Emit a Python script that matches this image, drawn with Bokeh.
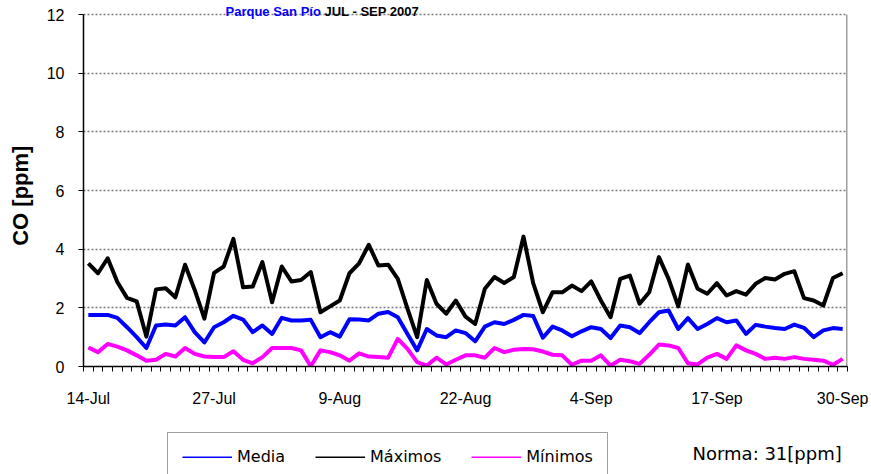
from bokeh.plotting import figure
from bokeh.layouts import column
from bokeh.models import FixedTicker, Legend, LegendItem, Label, Range1d
from bokeh.embed import file_html
from bokeh.resources import INLINE

# ---- data ----
tick_idx = [0, 13, 26, 39, 52, 65, 78]
tick_labels = ["14-Jul", "27-Jul", "9-Aug", "22-Aug", "4-Sep", "17-Sep", "30-Sep"]

media = [1.76, 1.76, 1.76, 1.66, 1.34, 1.00, 0.63, 1.40, 1.43, 1.40, 1.68, 1.17, 0.82, 1.34,
         1.51, 1.73, 1.60, 1.17, 1.40, 1.11, 1.66, 1.57, 1.57, 1.59, 1.00, 1.17, 1.02,
         1.61, 1.60, 1.57, 1.80, 1.86, 1.68, 1.11, 0.55, 1.28, 1.06, 1.00, 1.23, 1.14, 0.86,
         1.36, 1.51, 1.45, 1.59, 1.76, 1.72, 0.98, 1.36, 1.23, 1.03, 1.20, 1.34,
         1.28, 0.97, 1.40, 1.34, 1.14, 1.51, 1.85, 1.91, 1.28, 1.65, 1.28, 1.45, 1.65, 1.51,
         1.57, 1.11, 1.42, 1.36, 1.31, 1.28, 1.43, 1.32, 1.00, 1.23, 1.31, 1.28]

maximos = [3.52, 3.18, 3.69, 2.88, 2.34, 2.22, 1.02, 2.63, 2.67, 2.36, 3.47, 2.61, 1.63, 3.19,
           3.41, 4.35, 2.70, 2.73, 3.56, 2.19, 3.41, 2.90, 2.95, 3.22, 1.85, 2.05, 2.25,
           3.18, 3.52, 4.15, 3.44, 3.47, 2.99, 1.97, 1.00, 2.95, 2.14, 1.80, 2.25, 1.70, 1.45,
           2.65, 3.05, 2.85, 3.05, 4.43, 2.84, 1.85, 2.53, 2.53, 2.76, 2.57, 2.90,
           2.25, 1.68, 2.99, 3.10, 2.14, 2.53, 3.73, 2.99, 2.05, 3.48, 2.65, 2.48, 2.84, 2.42,
           2.57, 2.45, 2.82, 3.02, 2.97, 3.16, 3.25, 2.33, 2.25, 2.08, 3.02, 3.18]

minimos = [0.65, 0.49, 0.77, 0.68, 0.55, 0.38, 0.20, 0.23, 0.43, 0.34, 0.63, 0.43, 0.34, 0.32,
           0.32, 0.52, 0.23, 0.11, 0.32, 0.63, 0.63, 0.63, 0.55, 0.01, 0.55, 0.49, 0.38,
           0.20, 0.45, 0.34, 0.32, 0.30, 0.94, 0.60, 0.15, 0.03, 0.30, 0.07, 0.23, 0.38, 0.38,
           0.30, 0.63, 0.49, 0.57, 0.60, 0.59, 0.51, 0.40, 0.38, 0.06, 0.20, 0.20,
           0.38, 0.03, 0.23, 0.18, 0.09, 0.40, 0.75, 0.72, 0.63, 0.11, 0.07, 0.30, 0.43, 0.26,
           0.72, 0.55, 0.43, 0.26, 0.30, 0.26, 0.32, 0.26, 0.23, 0.20, 0.06, 0.26]

y_ticks = [0, 2, 4, 6, 8, 10, 12]
y_max = 12
days = list(range(len(media)))

# ---- main figure ----
W, H1, H2 = 871, 420, 54
p = figure(width=W, height=H1, output_backend="svg", toolbar_location=None,
           x_range=Range1d(-0.5, len(days) - 0.5), y_range=Range1d(0, 12.48),
           min_border_left=83, min_border_right=24,
           min_border_top=0, min_border_bottom=54)
p.outline_line_color = None
p.background_fill_color = "white"
p.border_fill_color = "white"

# x axis
p.xaxis.ticker = FixedTicker(ticks=tick_idx, minor_ticks=[i - 0.5 for i in range(len(days) + 1)])
p.xaxis.major_label_overrides = {t: l for t, l in zip(tick_idx, tick_labels)}
p.xaxis.major_tick_out = 0
p.xaxis.major_tick_in = 0
p.xaxis.minor_tick_out = 5
p.xaxis.minor_tick_in = 0
p.xaxis.minor_tick_line_color = "black"
p.xaxis.axis_line_color = "black"
p.xaxis.axis_line_width = 1.5
p.xaxis.major_label_standoff = 18
p.xaxis.major_label_text_font = "Liberation Sans"
p.xaxis.major_label_text_font_size = "16px"
p.xaxis.major_label_text_color = "black"
p.xgrid.visible = False

# y axis
p.yaxis.ticker = FixedTicker(ticks=y_ticks)
p.yaxis.bounds = (0, y_max)
p.yaxis.major_tick_out = 5
p.yaxis.major_tick_in = 0
p.yaxis.minor_tick_line_color = None
p.yaxis.axis_line_color = "black"
p.yaxis.axis_line_width = 1.5
p.yaxis.major_label_standoff = 14
p.yaxis.major_label_text_font = "Liberation Sans"
p.yaxis.major_label_text_font_size = "16px"
p.yaxis.major_label_text_color = "black"
p.yaxis.axis_label = "CO [ppm]\u00a0\u00a0\u00a0\u00a0"
p.yaxis.axis_label_text_font = "Liberation Sans"
p.yaxis.axis_label_text_font_style = "bold"
p.yaxis.axis_label_text_font_size = "22px"
p.yaxis.axis_label_text_color = "black"
p.yaxis.axis_label_standoff = 11

p.ygrid.ticker = FixedTicker(ticks=y_ticks)
p.ygrid.grid_line_color = "#7a7a7a"
p.ygrid.grid_line_dash = "2 2"
p.ygrid.grid_line_width = 1.5

# right border of the plot area
p.segment(x0=[len(days) - 0.5], y0=[0], x1=[len(days) - 0.5], y1=[y_max],
          line_color="#a0a0a0", line_width=3)

# series
p.line(days, maximos, line_color="black", line_width=4, line_join="round")
p.line(days, media, line_color="#0000ff", line_width=4, line_join="round")
p.line(days, minimos, line_color="#ff00ff", line_width=4, line_join="round")

# title, above the top gridline
p.add_layout(Label(x=142, y=355, x_units="screen", y_units="screen",
                   text="Parque San Pío", text_font="Liberation Sans",
                   text_font_style="bold", text_font_size="13px",
                   text_baseline="alphabetic", text_color="#0000ff"))
p.add_layout(Label(x=241, y=355, x_units="screen", y_units="screen",
                   text="JUL - SEP 2007", text_font="Liberation Sans",
                   text_font_style="bold", text_font_size="13px",
                   text_baseline="alphabetic", text_color="black"))

# ---- footer: legend + norma ----
f = figure(width=W, height=H2, output_backend="svg", toolbar_location=None,
           x_axis_type=None, y_axis_type=None,
           x_range=Range1d(0, 1), y_range=Range1d(100, 101),
           min_border_left=83, min_border_right=24, min_border_top=0, min_border_bottom=0)
f.outline_line_color = None
f.grid.visible = False
f.background_fill_color = "white"
f.border_fill_color = "white"

# legend glyph sources (drawn outside the footer's visible range)
lm = f.line(days, media, line_color="#0000ff", line_width=2)
lx = f.line(days, maximos, line_color="black", line_width=2)
ln = f.line(days, minimos, line_color="#ff00ff", line_width=2)
legend = Legend(items=[LegendItem(label="Media", renderers=[lm]),
                       LegendItem(label="Máximos", renderers=[lx]),
                       LegendItem(label="Mínimos", renderers=[ln])],
                orientation="horizontal", location=(84, -7),
                margin=0, padding=14, spacing=30,
                glyph_width=50, glyph_height=2, label_standoff=5, label_height=2,
                label_text_font="DejaVu Sans", label_text_font_size="16px",
                label_text_color="black",
                border_line_color="#404040", border_line_width=1,
                background_fill_color="white", background_fill_alpha=1)
f.add_layout(legend, "center")

f.add_layout(Label(x=609, y=21, x_units="screen", y_units="screen",
                   text="Norma: 31[ppm]", text_font="DejaVu Sans",
                   text_font_size="18px", text_baseline="middle", text_color="black"))

open("out.html", "w").write(file_html(column(p, f, spacing=0), INLINE))
